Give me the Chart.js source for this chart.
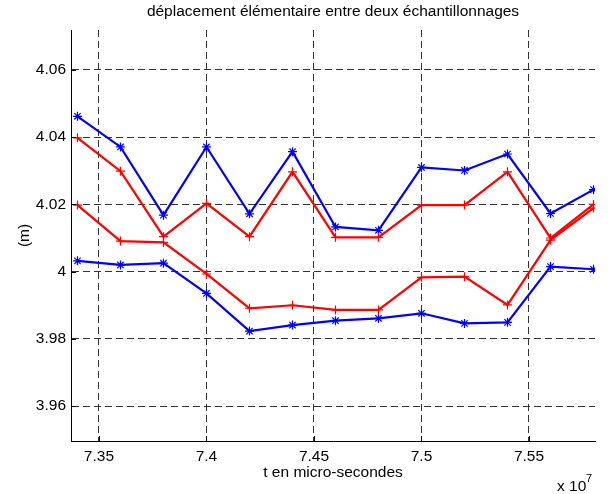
<!DOCTYPE html>
<html>
<head>
<meta charset="utf-8">
<script src="https://cdn.jsdelivr.net/npm/chart.js@4"></script>
<style>
  html, body { margin: 0; padding: 0; background: #fff; }
  canvas { display: block; }
</style>
</head>
<body>
<canvas id="myChart" width="615" height="494"></canvas>
<script>
// temps en unités de 10^7 micro-secondes
const times = [7.34, 7.36, 7.38, 7.40, 7.42, 7.44, 7.46, 7.48, 7.50, 7.52, 7.54, 7.56, 7.58];
const blueHigh = [4.0462, 4.0371, 4.0168, 4.0371, 4.0172, 4.0357, 4.0133, 4.0123, 4.0310, 4.0301, 4.0350, 4.0173, 4.0244];
const redHigh = [4.0398, 4.0299, 4.0104, 4.0203, 4.0104, 4.0297, 4.0102, 4.0102, 4.0198, 4.0198, 4.0297, 4.0100, 4.0200];
const redLow = [4.0198, 4.0091, 4.0087, 3.9993, 3.9891, 3.9900, 3.9886, 3.9886, 3.9983, 3.9985, 3.9901, 4.0094, 4.0189];
const blueLow = [4.0032, 4.0020, 4.0025, 3.9935, 3.9823, 3.9841, 3.9854, 3.9861, 3.9876, 3.9846, 3.9849, 4.0015, 4.0007];

const xTicks = [7.35, 7.4, 7.45, 7.5, 7.55];
const yTicks = [3.96, 3.98, 4, 4.02, 4.04, 4.06];

const titleText = 'déplacement élémentaire entre deux échantillonnages';
const xLabel = 't en micro-secondes';
const yLabel = '(m)';

const FONT = 'Liberation Sans, Arial, Helvetica, sans-serif';
const FS = 15.5;

function series(values, color, style) {
  return {
    data: values.map((v, i) => ({x: times[i], y: v})),
    borderColor: color,
    backgroundColor: color,
    borderWidth: 2.2,
    pointStyle: style,
    pointRadius: 4.5,
    pointBorderWidth: 1.2,
    pointBorderColor: color,
    tension: 0
  };
}

// petits traits de graduation vers l'intérieur + titre + facteur x 10^7
const extras = {
  id: 'extras',
  afterDraw(chart) {
    const {ctx, chartArea, scales} = chart;
    ctx.save();
    ctx.strokeStyle = '#000';
    ctx.lineWidth = 1;
    ctx.beginPath();
    xTicks.forEach(v => {
      const px = Math.round(scales.x.getPixelForValue(v)) + 0.5;
      ctx.moveTo(px, chartArea.bottom);
      ctx.lineTo(px, chartArea.bottom - 5);
    });
    yTicks.forEach(v => {
      const py = Math.round(scales.y.getPixelForValue(v)) + 0.5;
      ctx.moveTo(chartArea.left, py);
      ctx.lineTo(chartArea.left + 5, py);
    });
    ctx.stroke();

    ctx.fillStyle = '#000';
    ctx.font = FS + 'px ' + FONT;
    ctx.textAlign = 'center';
    ctx.textBaseline = 'middle';
    ctx.fillText(titleText, (chartArea.left + chartArea.right) / 2, 12);

    ctx.textAlign = 'left';
    ctx.textBaseline = 'alphabetic';
    ctx.fillText('x 10', 557, 491);
    ctx.font = '11px ' + FONT;
    ctx.fillText('7', 586, 482);
    ctx.restore();
  }
};

document.addEventListener('DOMContentLoaded', function() {
  const ctx = document.getElementById('myChart');

  new Chart(ctx, {
    type: 'line',
    data: {
      datasets: [
        series(redHigh, '#ff0000', 'cross'),
        series(redLow, '#ff0000', 'cross'),
        series(blueHigh, '#0000ff', 'star'),
        series(blueLow, '#0000ff', 'star')
      ]
    },
    options: {
      responsive: false,
      animation: false,
      devicePixelRatio: 1,
      layout: { padding: { top: 30, right: 20, left: 0, bottom: 0 } },
      plugins: {
        legend: { display: false },
        title: { display: false },
        tooltip: { enabled: false }
      },
      scales: {
        x: {
          type: 'linear',
          min: 7.337,
          max: 7.5807,
          afterBuildTicks: s => { s.ticks = xTicks.map(v => ({value: v})); },
          afterFit: s => { s.height = 53; },
          ticks: {
            color: '#000',
            padding: 6,
            maxRotation: 0,
            autoSkip: false,
            font: { family: FONT, size: FS },
            callback: v => String(+v.toFixed(4))
          },
          grid: { color: '#333', lineWidth: 1, drawTicks: false },
          border: { display: true, color: '#000', width: 1, dash: [7, 4] },
          title: {
            display: true,
            text: xLabel,
            color: '#000',
            font: { family: FONT, size: FS },
            padding: { top: 0, bottom: 12 }
          }
        },
        y: {
          type: 'linear',
          min: 3.9496,
          max: 4.0719,
          afterBuildTicks: s => { s.ticks = yTicks.map(v => ({value: v})); },
          afterFit: s => { s.width = 71; },
          ticks: {
            color: '#000',
            padding: 5,
            autoSkip: false,
            font: { family: FONT, size: FS },
            callback: v => String(+v.toFixed(4))
          },
          grid: { color: '#333', lineWidth: 1, drawTicks: false },
          border: { display: true, color: '#000', width: 1, dash: [7, 4] },
          title: {
            display: true,
            text: yLabel,
            color: '#000',
            font: { family: FONT, size: FS },
            padding: { top: 15, bottom: 0 }
          }
        }
      }
    },
    plugins: [extras]
  });
});
</script>
</body>
</html>
